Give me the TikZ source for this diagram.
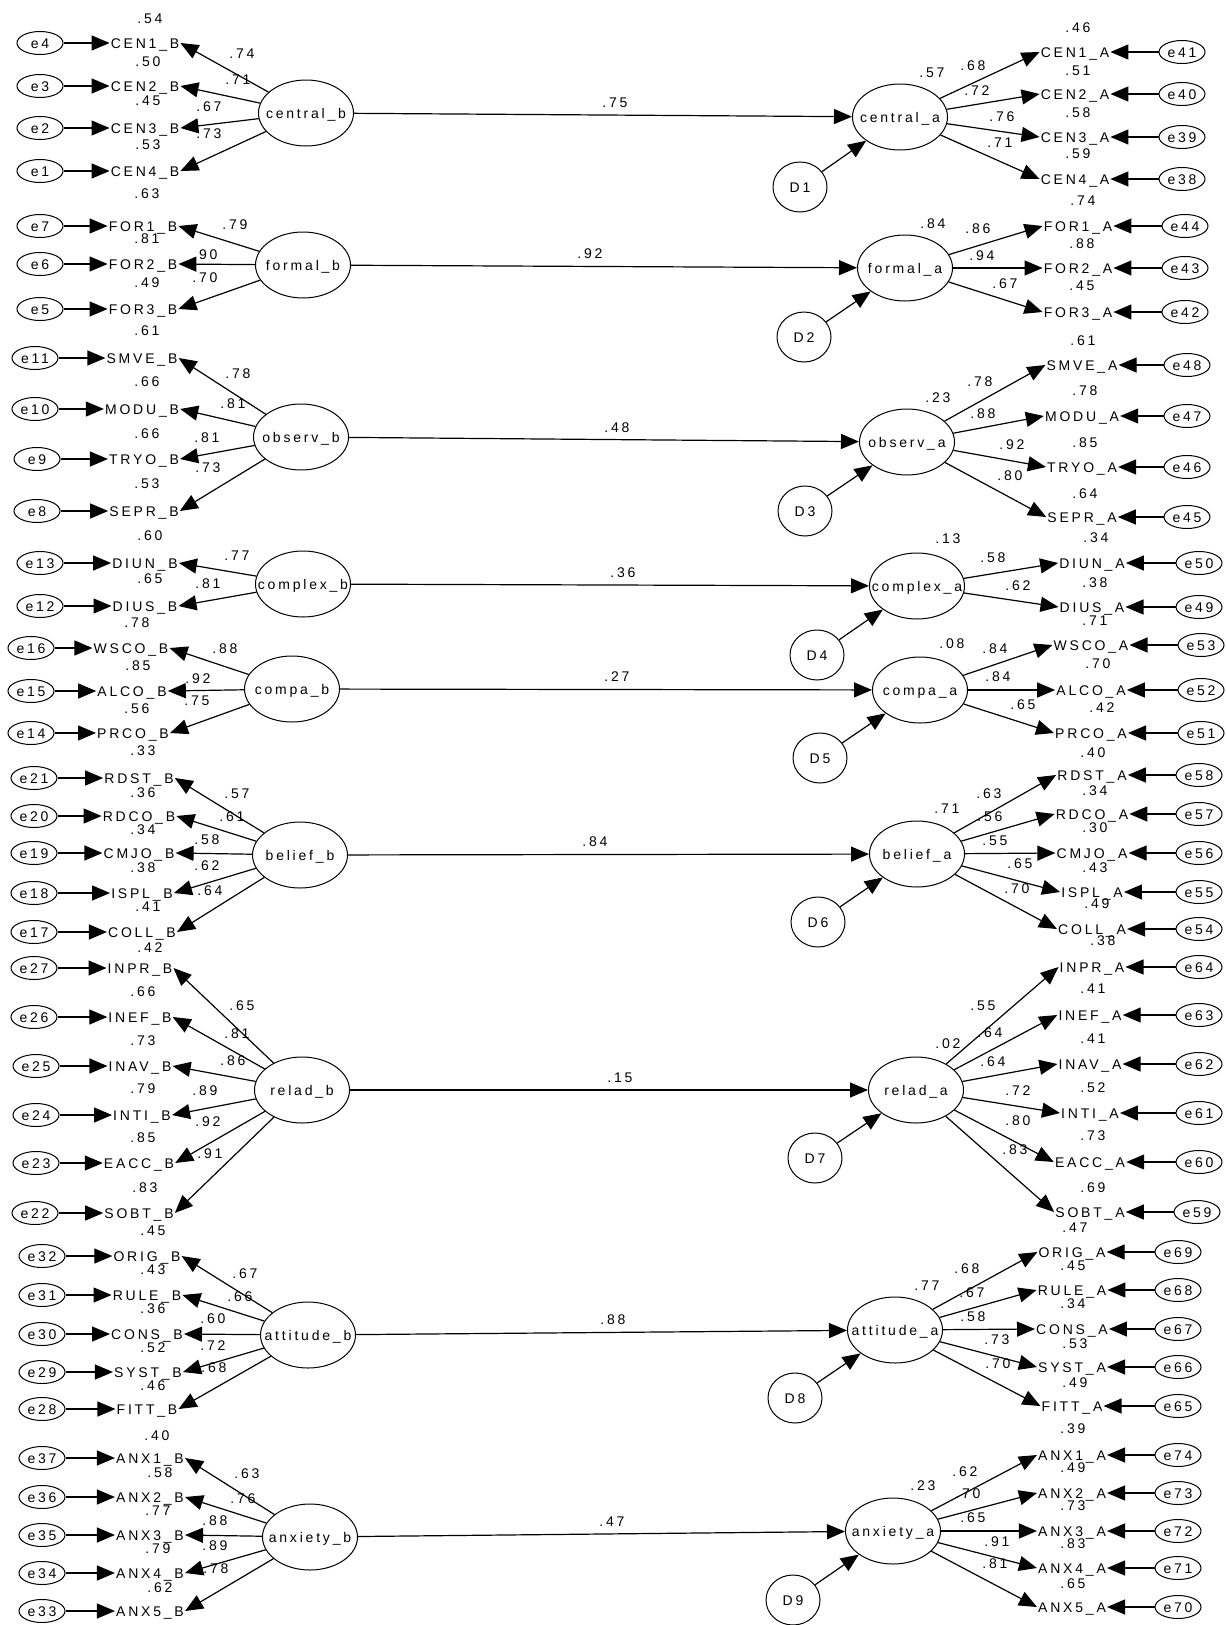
\documentclass[tikz,border=0pt]{standalone}
\usepackage{fontspec}
\setmainfont{Liberation Sans}[LetterSpace=20]
\usetikzlibrary{arrows.meta,shapes.geometric}
\newcommand{\zw}[1]{\makebox[0pt]{#1}}
\newcounter{lb}
\tikzset{
 every node/.style={font=\fontsize{14}{16}\selectfont},
 lat/.style={draw, ellipse, line width=1pt, minimum width=95pt, minimum height=66pt, inner sep=0pt, text height=10pt, text depth=0pt},
 err/.style={draw, ellipse, line width=1pt, minimum width=46pt, minimum height=23pt, inner sep=0pt, text height=10pt, text depth=0pt},
 dist/.style={draw, ellipse, line width=1pt, minimum width=54pt, minimum height=50pt, inner sep=0pt, text height=10pt, text depth=0pt},
 ind/.style={inner sep=1pt, text height=10pt, text depth=0pt},
 lbl/.style={inner sep=0pt, text height=10pt, text depth=0pt},
 arr/.style={line width=1.2pt, -{Triangle[length=18pt,width=15pt]}},
}
\newcommand{\lab}[3]{\stepcounter{lb}\node[lbl] (lab\arabic{lb}) at (#1,#2) {#3};}
\newcommand{\indL}[6]{\node[err] (#2) at (#3,#5) {\zw{#2}};\node[ind] (#1) at (#4,#5) {#6};\draw[arr] (#2) -- (#1.west);}
\newcommand{\indR}[6]{\node[err] (#2) at (#3,#5) {\zw{#2}};\node[ind] (#1) at (#4,#5) {#6};\draw[arr] (#2) -- (#1.east);}
\begin{document}
\begin{tikzpicture}[x=1pt,y=-1pt]
\fill[white] (0,0) rectangle (1226,1625);
\useasboundingbox (0,0) rectangle (1226,1625);
% ---------- labels left ----------
\lab{150}{18}{.54}\lab{148}{61}{.50}\lab{148}{100}{.45}\lab{148}{144}{.53}
\lab{242}{53}{.74}\lab{238}{79}{.71}\lab{209}{106}{.67}\lab{209}{133}{.73}
\lab{147}{193}{.63}\lab{147}{238}{.81}\lab{147}{282}{.49}
\lab{235}{224}{.79}\lab{205}{254}{.90}\lab{205}{277}{.70}
\lab{147}{330}{.61}\lab{147}{381}{.66}\lab{147}{433}{.66}\lab{147}{483}{.53}
\lab{238}{373}{.78}\lab{233}{403}{.81}\lab{207}{437}{.81}\lab{208}{467}{.73}
\lab{150}{535}{.60}\lab{150}{578}{.65}
\lab{237}{555}{.77}\lab{208}{583}{.81}
\lab{137}{622}{.78}\lab{138}{665}{.85}\lab{137}{708}{.56}
\lab{225}{648}{.88}\lab{198}{678}{.92}\lab{197}{700}{.75}
\lab{143}{750}{.33}\lab{143}{792}{.36}\lab{143}{829}{.34}\lab{143}{867}{.38}\lab{148}{906}{.41}
\lab{237}{793}{.57}\lab{232}{816}{.61}\lab{207}{839}{.58}\lab{207}{865}{.62}\lab{210}{890}{.64}
\lab{150}{947}{.42}\lab{143}{991}{.66}\lab{143}{1040}{.73}\lab{143}{1088}{.79}\lab{143}{1137}{.85}\lab{145}{1187}{.83}
\lab{242}{1005}{.65}\lab{237}{1033}{.81}\lab{233}{1060}{.86}\lab{205}{1090}{.89}\lab{208}{1121}{.92}\lab{210}{1153}{.91}
\lab{153}{1230}{.45}\lab{153}{1269}{.43}\lab{153}{1308}{.36}\lab{153}{1347}{.52}\lab{153}{1385}{.46}
\lab{245}{1273}{.67}\lab{240}{1296}{.66}\lab{213}{1318}{.60}\lab{213}{1345}{.72}\lab{214}{1367}{.68}
\lab{157}{1435}{.40}\lab{160}{1472}{.58}\lab{158}{1510}{.77}\lab{158}{1548}{.79}\lab{160}{1587}{.62}
\lab{247}{1473}{.63}\lab{243}{1498}{.76}\lab{215}{1520}{.88}\lab{215}{1545}{.89}\lab{216}{1568}{.78}
% ---------- labels right ----------
\lab{932}{72}{.57}\lab{1078}{27}{.46}\lab{1078}{70}{.51}\lab{1078}{112}{.58}\lab{1078}{153}{.59}
\lab{973}{65}{.68}\lab{977}{90}{.72}\lab{1002}{116}{.76}\lab{1000}{142}{.71}
\lab{933}{223}{.84}\lab{1083}{200}{.74}\lab{1082}{243}{.88}\lab{1082}{285}{.45}
\lab{978}{228}{.86}\lab{982}{255}{.94}\lab{1005}{283}{.67}
\lab{938}{397}{.23}\lab{1083}{340}{.61}\lab{1085}{390}{.78}\lab{1085}{442}{.85}\lab{1085}{493}{.64}
\lab{980}{381}{.78}\lab{983}{413}{.88}\lab{1012}{444}{.92}\lab{1010}{475}{.80}
\lab{948}{538}{.13}\lab{1096}{537}{.34}\lab{1095}{582}{.38}
\lab{993}{557}{.58}\lab{1018}{585}{.62}
\lab{952}{643}{.08}\lab{1095}{620}{.71}\lab{1098}{663}{.70}\lab{1102}{707}{.42}
\lab{995}{648}{.84}\lab{998}{676}{.84}\lab{1023}{704}{.65}
\lab{947}{808}{.71}\lab{1093}{752}{.40}\lab{1095}{790}{.34}\lab{1095}{827}{.30}\lab{1095}{867}{.43}\lab{1097}{903}{.49}
\lab{989}{793}{.63}\lab{990}{816}{.56}\lab{995}{840}{.55}\lab{1020}{863}{.65}\lab{1017}{888}{.70}
\lab{948}{1043}{.02}\lab{1103}{940}{.38}\lab{1093}{988}{.41}\lab{1093}{1038}{.41}\lab{1093}{1087}{.52}\lab{1093}{1135}{.73}\lab{1093}{1187}{.69}
\lab{983}{1005}{.55}\lab{990}{1032}{.64}\lab{993}{1061}{.64}\lab{1018}{1090}{.72}\lab{1018}{1120}{.80}\lab{1015}{1149}{.83}
\lab{927}{1285}{.77}\lab{1075}{1227}{.47}\lab{1073}{1265}{.45}\lab{1073}{1303}{.34}\lab{1075}{1343}{.53}\lab{1075}{1382}{.49}
\lab{967}{1268}{.68}\lab{972}{1292}{.67}\lab{973}{1316}{.58}\lab{997}{1339}{.73}\lab{998}{1363}{.70}
\lab{923}{1485}{.23}\lab{1073}{1428}{.39}\lab{1073}{1467}{.49}\lab{1073}{1505}{.73}\lab{1073}{1543}{.83}\lab{1073}{1583}{.65}
\lab{965}{1471}{.62}\lab{968}{1493}{.70}\lab{973}{1517}{.65}\lab{997}{1541}{.91}\lab{995}{1563}{.81}
% ---------- structural labels ----------
\lab{615}{102}{.75}\lab{590}{253}{.92}\lab{617}{427}{.48}\lab{623}{572}{.36}\lab{617}{676}{.27}
\lab{595}{841}{.84}\lab{620}{1077}{.15}\lab{613}{1319}{.88}\lab{612}{1521}{.47}
% ---------- latent variables ----------
\node[lat] (centralb) at (306,113) {\zw{central\_b}};
\node[lat] (formalb) at (303,265) {\zw{formal\_b}};
\node[lat] (observb) at (301,437) {\zw{observ\_b}};
\node[lat] (complexb) at (303,584) {\zw{complex\_b}};
\node[lat] (compab) at (292,689) {\zw{compa\_b}};
\node[lat] (beliefb) at (300,855) {\zw{belief\_b}};
\node[lat] (reladb) at (302,1090) {\zw{relad\_b}};
\node[lat] (attitudeb) at (308,1335) {\zw{attitude\_b}};
\node[lat] (anxietyb) at (310,1537) {\zw{anxiety\_b}};
\node[lat] (centrala) at (900,117) {\zw{central\_a}};
\node[lat] (formala) at (905,268) {\zw{formal\_a}};
\node[lat] (observa) at (907,442) {\zw{observ\_a}};
\node[lat] (complexa) at (917,586) {\zw{complex\_a}};
\node[lat] (compaa) at (920,690) {\zw{compa\_a}};
\node[lat] (beliefa) at (917,854) {\zw{belief\_a}};
\node[lat] (relada) at (916,1090) {\zw{relad\_a}};
\node[lat] (attitudea) at (895,1330) {\zw{attitude\_a}};
\node[lat] (anxietya) at (893,1531) {\zw{anxiety\_a}};
% ---------- disturbances ----------
\node[dist] (D1) at (800,187) {\zw{D1}};
\node[dist] (D2) at (804,337) {\zw{D2}};
\node[dist] (D3) at (805,511) {\zw{D3}};
\node[dist] (D4) at (817,655) {\zw{D4}};
\node[dist] (D5) at (820,758) {\zw{D5}};
\node[dist] (D6) at (818,922) {\zw{D6}};
\node[dist] (D7) at (815,1158) {\zw{D7}};
\node[dist] (D8) at (795,1398) {\zw{D8}};
\node[dist] (D9) at (793,1600) {\zw{D9}};
% ---------- left indicators ----------
\indL{CEN1B}{e4}{40}{145}{43}{CEN1\_B}
\indL{CEN2B}{e3}{40}{145}{86}{CEN2\_B}
\indL{CEN3B}{e2}{40}{145}{128}{CEN3\_B}
\indL{CEN4B}{e1}{40}{145}{171}{CEN4\_B}
\indL{FOR1B}{e7}{40}{143}{226}{FOR1\_B}
\indL{FOR2B}{e6}{40}{143}{264}{FOR2\_B}
\indL{FOR3B}{e5}{40}{143}{309}{FOR3\_B}
\indL{SMVEB}{e11}{35}{142}{358}{SMVE\_B}
\indL{MODUB}{e10}{35}{142}{409}{MODU\_B}
\indL{TRYOB}{e9}{37}{144}{459}{TRYO\_B}
\indL{SEPRB}{e8}{37}{144}{511}{SEPR\_B}
\indL{DIUNB}{e13}{40}{145}{563}{DIUN\_B}
\indL{DIUSB}{e12}{40}{145}{606}{DIUS\_B}
\indL{WSCOB}{e16}{31}{131}{648}{WSCO\_B}
\indL{ALCOB}{e15}{31}{132}{691}{ALCO\_B}
\indL{PRCOB}{e14}{31}{133}{733}{PRCO\_B}
\indL{RDSTB}{e21}{34}{139}{778}{RDST\_B}
\indL{RDCOB}{e20}{34}{139}{816}{RDCO\_B}
\indL{CMJOB}{e19}{34}{139}{853}{CMJO\_B}
\indL{ISPLB}{e18}{34}{142}{893}{ISPL\_B}
\indL{COLLB}{e17}{34}{142}{932}{COLL\_B}
\indL{INPRB}{e27}{34}{140}{968}{INPR\_B}
\indL{INEFB}{e26}{34}{140}{1017}{INEF\_B}
\indL{INAVB}{e25}{36}{140}{1066}{INAV\_B}
\indL{INTIB}{e24}{36}{142}{1115}{INTI\_B}
\indL{EACCB}{e23}{36}{139}{1163}{EACC\_B}
\indL{SOBTB}{e22}{35}{139}{1213}{SOBT\_B}
\indL{ORIGB}{e32}{42}{147}{1256}{ORIG\_B}
\indL{RULEB}{e31}{42}{147}{1295}{RULE\_B}
\indL{CONSB}{e30}{42}{147}{1334}{CONS\_B}
\indL{SYSTB}{e29}{42}{148}{1372}{SYST\_B}
\indL{FITTB}{e28}{42}{147}{1409}{FITT\_B}
\indL{ANX1B}{e37}{42}{150}{1458}{ANX1\_B}
\indL{ANX2B}{e36}{42}{150}{1497}{ANX2\_B}
\indL{ANX3B}{e35}{42}{150}{1535}{ANX3\_B}
\indL{ANX4B}{e34}{42}{150}{1573}{ANX4\_B}
\indL{ANX5B}{e33}{42}{150}{1611}{ANX5\_B}
% ---------- right indicators ----------
\indR{CEN1A}{e41}{1182}{1075}{52}{CEN1\_A}
\indR{CEN2A}{e40}{1182}{1075}{94}{CEN2\_A}
\indR{CEN3A}{e39}{1182}{1075}{137}{CEN3\_A}
\indR{CEN4A}{e38}{1182}{1075}{179}{CEN4\_A}
\indR{FOR1A}{e44}{1185}{1078}{226}{FOR1\_A}
\indR{FOR2A}{e43}{1185}{1078}{268}{FOR2\_A}
\indR{FOR3A}{e42}{1185}{1078}{312}{FOR3\_A}
\indR{SMVEA}{e48}{1187}{1082}{365}{SMVE\_A}
\indR{MODUA}{e47}{1187}{1082}{416}{MODU\_A}
\indR{TRYOA}{e46}{1187}{1082}{467}{TRYO\_A}
\indR{SEPRA}{e45}{1187}{1082}{517}{SEPR\_A}
\indR{DIUNA}{e50}{1199}{1092}{563}{DIUN\_A}
\indR{DIUSA}{e49}{1199}{1092}{607}{DIUS\_A}
\indR{WSCOA}{e53}{1201}{1091}{645}{WSCO\_A}
\indR{ALCOA}{e52}{1201}{1091}{690}{ALCO\_A}
\indR{PRCOA}{e51}{1201}{1091}{733}{PRCO\_A}
\indR{RDSTA}{e58}{1199}{1092}{775}{RDST\_A}
\indR{RDCOA}{e57}{1199}{1092}{814}{RDCO\_A}
\indR{CMJOA}{e56}{1199}{1092}{853}{CMJO\_A}
\indR{ISPLA}{e55}{1199}{1092}{892}{ISPL\_A}
\indR{COLLA}{e54}{1199}{1092}{929}{COLL\_A}
\indR{INPRA}{e64}{1199}{1092}{967}{INPR\_A}
\indR{INEFA}{e63}{1199}{1090}{1015}{INEF\_A}
\indR{INAVA}{e62}{1199}{1090}{1064}{INAV\_A}
\indR{INTIA}{e61}{1199}{1090}{1113}{INTI\_A}
\indR{EACCA}{e60}{1199}{1090}{1162}{EACC\_A}
\indR{SOBTA}{e59}{1197}{1090}{1212}{SOBT\_A}
\indR{ORIGA}{e69}{1178}{1072}{1252}{ORIG\_A}
\indR{RULEA}{e68}{1178}{1072}{1290}{RULE\_A}
\indR{CONSA}{e67}{1178}{1072}{1329}{CONS\_A}
\indR{SYSTA}{e66}{1178}{1072}{1367}{SYST\_A}
\indR{FITTA}{e65}{1178}{1072}{1406}{FITT\_A}
\indR{ANX1A}{e74}{1178}{1072}{1455}{ANX1\_A}
\indR{ANX2A}{e73}{1178}{1072}{1493}{ANX2\_A}
\indR{ANX3A}{e72}{1178}{1072}{1531}{ANX3\_A}
\indR{ANX4A}{e71}{1178}{1072}{1568}{ANX4\_A}
\indR{ANX5A}{e70}{1178}{1072}{1607}{ANX5\_A}
% ---------- loadings (left) ----------
\foreach \i in {CEN1B,CEN2B,CEN3B,CEN4B} \draw[arr] (centralb) -- (\i.east);
\foreach \i in {FOR1B,FOR2B,FOR3B} \draw[arr] (formalb) -- (\i.east);
\foreach \i in {SMVEB,MODUB,TRYOB,SEPRB} \draw[arr] (observb) -- (\i.east);
\foreach \i in {DIUNB,DIUSB} \draw[arr] (complexb) -- (\i.east);
\foreach \i in {WSCOB,ALCOB,PRCOB} \draw[arr] (compab) -- (\i.east);
\foreach \i in {RDSTB,RDCOB,CMJOB,ISPLB,COLLB} \draw[arr] (beliefb) -- (\i.east);
\foreach \i in {INPRB,INEFB,INAVB,INTIB,EACCB,SOBTB} \draw[arr] (reladb) -- (\i.east);
\foreach \i in {ORIGB,RULEB,CONSB,SYSTB,FITTB} \draw[arr] (attitudeb) -- (\i.east);
\foreach \i in {ANX1B,ANX2B,ANX3B,ANX4B,ANX5B} \draw[arr] (anxietyb) -- (\i.east);
% ---------- loadings (right) ----------
\foreach \i in {CEN1A,CEN2A,CEN3A,CEN4A} \draw[arr] (centrala) -- (\i.west);
\foreach \i in {FOR1A,FOR2A,FOR3A} \draw[arr] (formala) -- (\i.west);
\foreach \i in {SMVEA,MODUA,TRYOA,SEPRA} \draw[arr] (observa) -- (\i.west);
\foreach \i in {DIUNA,DIUSA} \draw[arr] (complexa) -- (\i.west);
\foreach \i in {WSCOA,ALCOA,PRCOA} \draw[arr] (compaa) -- (\i.west);
\foreach \i in {RDSTA,RDCOA,CMJOA,ISPLA,COLLA} \draw[arr] (beliefa) -- (\i.west);
\foreach \i in {INPRA,INEFA,INAVA,INTIA,EACCA,SOBTA} \draw[arr] (relada) -- (\i.west);
\foreach \i in {ORIGA,RULEA,CONSA,SYSTA,FITTA} \draw[arr] (attitudea) -- (\i.west);
\foreach \i in {ANX1A,ANX2A,ANX3A,ANX4A,ANX5A} \draw[arr] (anxietya) -- (\i.west);
% ---------- structural paths ----------
\draw[arr] (centralb) -- (centrala);
\draw[arr] (formalb) -- (formala);
\draw[arr] (observb) -- (observa);
\draw[arr] (complexb) -- (complexa);
\draw[arr] (compab) -- (compaa);
\draw[arr] (beliefb) -- (beliefa);
\draw[arr] (reladb) -- (relada);
\draw[arr] (attitudeb) -- (attitudea);
\draw[arr] (anxietyb) -- (anxietya);
% ---------- disturbances ----------
\draw[arr] (D1) -- (centrala);
\draw[arr] (D2) -- (formala);
\draw[arr] (D3) -- (observa);
\draw[arr] (D4) -- (complexa);
\draw[arr] (D5) -- (compaa);
\draw[arr] (D6) -- (beliefa);
\draw[arr] (D7) -- (relada);
\draw[arr] (D8) -- (attitudea);
\draw[arr] (D9) -- (anxietya);
\end{tikzpicture}
\end{document}
